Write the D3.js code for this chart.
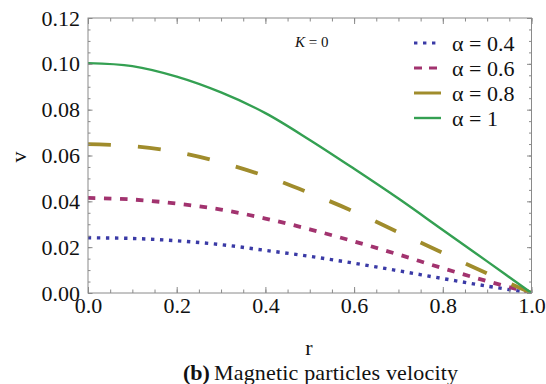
<!DOCTYPE html>
<html>
<head>
<meta charset="utf-8">
<script src="https://cdn.jsdelivr.net/npm/d3@7"></script>
<style>
  body { margin: 0; background: #fff; }
  text { font-family: "Liberation Serif", "Times New Roman", Times, "DejaVu Serif", serif; fill: #111; }
</style>
</head>
<body>
<svg id="chart" width="546" height="384"></svg>
<script>
// values
const rValues = [0, 0.1, 0.2, 0.3, 0.4, 0.5, 0.6, 0.7, 0.8, 0.9, 1.0];
const vAlpha04 = [0.0241, 0.0238, 0.0228, 0.0211, 0.0186, 0.0160, 0.0130, 0.0097, 0.0063, 0.0030, 0];
const vAlpha06 = [0.0415, 0.0408, 0.0390, 0.0364, 0.0325, 0.0278, 0.0225, 0.0168, 0.0108, 0.0052, 0];
const vAlpha08 = [0.0650, 0.0641, 0.0615, 0.0570, 0.0510, 0.0436, 0.0355, 0.0265, 0.0175, 0.0085, 0];
const vAlpha1  = [0.1003, 0.0990, 0.0944, 0.0875, 0.0785, 0.0668, 0.0542, 0.0412, 0.0275, 0.0138, 0];
const legendLabels = ['α = 0.4', 'α = 0.6', 'α = 0.8', 'α = 1'];
const xTicks = [0, 0.2, 0.4, 0.6, 0.8, 1.0];
const yTicks = [0, 0.02, 0.04, 0.06, 0.08, 0.10, 0.12];

// drawing styles, kept apart from the data
const styles = [
  { color: '#3a3aa6', width: 3.4, dash: '3.4,5.6', legendDash: '3.4,5.6' },
  { color: '#a2336f', width: 3.8, dash: '7.5,8.5', legendDash: '8,7' },
  { color: '#a08c2c', width: 3.8, dash: '23,27', legendDash: null },
  { color: '#34a052', width: 2.4, dash: null, legendDash: null }
];
const seriesValues = [vAlpha04, vAlpha06, vAlpha08, vAlpha1];
const serif = '"Liberation Serif", "Times New Roman", Times, "DejaVu Serif", serif';

const svg = d3.select('#chart');
const W = 546, H = 384;
const margin = { top: 18, right: 14.5, bottom: 91, left: 88 };
const iw = W - margin.left - margin.right;
const ih = H - margin.top - margin.bottom;

const x = d3.scaleLinear().domain([0, 1]).range([0, iw]);
const y = d3.scaleLinear().domain([0, 0.12]).range([ih, 0]);

const g = svg.append('g').attr('transform', `translate(${margin.left},${margin.top})`);

// curves
const line = d3.line()
  .x((d, i) => x(rValues[i]))
  .y(d => y(d))
  .curve(d3.curveCatmullRom.alpha(0.5));

g.append('clipPath').attr('id', 'clip')
  .append('rect').attr('x', -2).attr('y', -2).attr('width', iw + 4).attr('height', ih + 2);

seriesValues.forEach((vals, i) => {
  const s = styles[i];
  g.append('path')
    .datum(vals)
    .attr('d', line)
    .attr('fill', 'none')
    .attr('clip-path', 'url(#clip)')
    .attr('stroke', s.color)
    .attr('stroke-width', s.width)
    .attr('stroke-dasharray', s.dash);
});

// frame with inward ticks on all four sides
const frameColor = '#8a8a8a';
const minorX = d3.range(0, 1.0001, 0.05);
const minorY = d3.range(0, 0.12001, 0.005);

function styleAxis(sel) {
  sel.attr('font-family', null).attr('font-size', null);
  sel.select('.domain').remove();
  sel.selectAll('.tick line').attr('stroke', frameColor).attr('stroke-width', 1);
  sel.selectAll('.tick text')
    .style('font-family', serif)
    .style('font-size', '22px').attr('fill', '#111');
}

// bottom
g.append('g').attr('transform', `translate(0,${ih})`)
  .call(d3.axisBottom(x).tickValues(minorX).tickSize(-3.5).tickFormat(''))
  .call(styleAxis);
g.append('g').attr('transform', `translate(0,${ih})`)
  .call(d3.axisBottom(x).tickValues(xTicks).tickSize(-6).tickPadding(4).tickFormat(d3.format('.1f')))
  .call(styleAxis);
// top
g.append('g')
  .call(d3.axisTop(x).tickValues(minorX).tickSize(-3.5).tickFormat(''))
  .call(styleAxis);
g.append('g')
  .call(d3.axisTop(x).tickValues(xTicks).tickSize(-6).tickFormat(''))
  .call(styleAxis);
// left
g.append('g')
  .call(d3.axisLeft(y).tickValues(minorY).tickSize(-2.5).tickFormat(''))
  .call(styleAxis);
g.append('g')
  .call(d3.axisLeft(y).tickValues(yTicks).tickSize(-4.5).tickPadding(8).tickFormat(d3.format('.2f')))
  .call(styleAxis);
// right
g.append('g').attr('transform', `translate(${iw},0)`)
  .call(d3.axisRight(y).tickValues(minorY).tickSize(-2.5).tickFormat(''))
  .call(styleAxis);
g.append('g').attr('transform', `translate(${iw},0)`)
  .call(d3.axisRight(y).tickValues(yTicks).tickSize(-4.5).tickFormat(''))
  .call(styleAxis);

g.append('rect')
  .attr('width', iw).attr('height', ih)
  .attr('fill', 'none')
  .attr('stroke', frameColor)
  .attr('stroke-width', 1);

// axis titles
svg.append('text')
  .attr('x', 309).attr('y', 355)
  .attr('text-anchor', 'middle')
  .style('font-size', '22px')
  .text('r');
svg.append('text')
  .attr('transform', 'translate(26,157) rotate(-90)')
  .attr('text-anchor', 'middle')
  .style('font-size', '22px')
  .text('v');

// K = 0 annotation
const kText = svg.append('text')
  .attr('x', 295).attr('y', 47)
  .style('font-size', '15px');
kText.append('tspan').style('font-style', 'italic').text('K');
kText.append('tspan').text(' = 0');

// legend
const legend = svg.append('g').attr('transform', 'translate(414,43)');
legendLabels.forEach((lab, i) => {
  const s = styles[i];
  const row = legend.append('g').attr('transform', `translate(0,${i * 25})`);
  row.append('line')
    .attr('x1', 0).attr('x2', 27).attr('y1', 0).attr('y2', 0)
    .attr('stroke', s.color)
    .attr('stroke-width', Math.min(s.width, 3))
    .attr('stroke-dasharray', s.legendDash);
  row.append('text')
    .attr('x', 38).attr('y', 8)
    .style('font-size', '22px')
    .text(lab);
});

// caption
svg.append('text')
  .attr('x', 183).attr('y', 380)
  .style('font-size', '22px')
  .style('font-weight', 'bold')
  .text('(b)');
svg.append('text')
  .attr('x', 214).attr('y', 380)
  .attr('textLength', 244)
  .attr('lengthAdjust', 'spacing')
  .style('font-size', '22px')
  .text('Magnetic particles velocity');
</script>
</body>
</html>
